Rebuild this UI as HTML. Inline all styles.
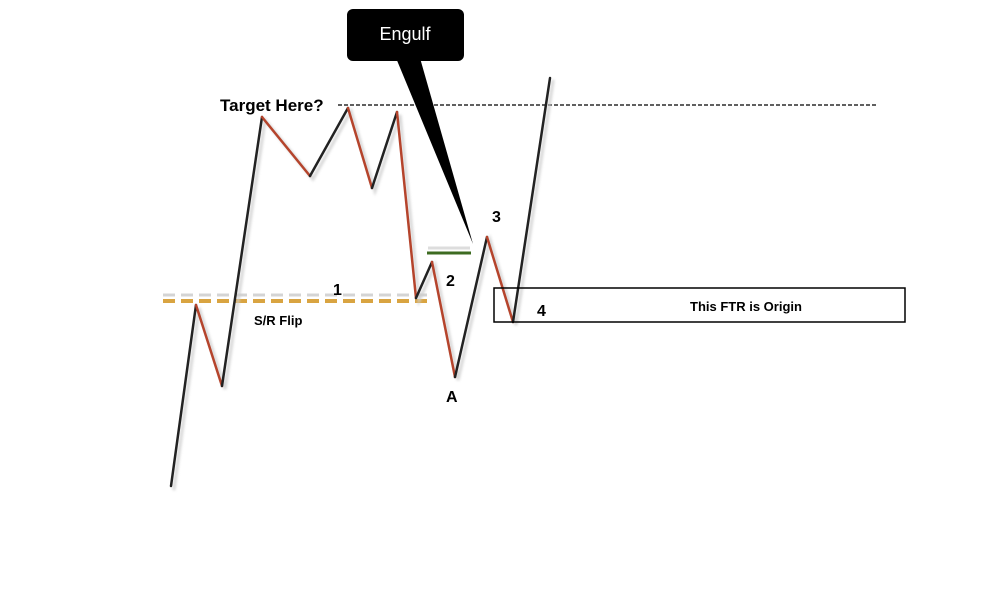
<!DOCTYPE html>
<html><head><style>
body{margin:0;background:#fff;width:1000px;height:600px;overflow:hidden}
svg{display:block}
text{font-family:"Liberation Sans",Arial,sans-serif;font-weight:bold;fill:#000}
</style></head><body>
<svg width="1000" height="600" viewBox="0 0 1000 600">
<defs><filter id="sh" x="-10%" y="-10%" width="120%" height="120%"><feGaussianBlur stdDeviation="1.2"/></filter></defs>
<line x1="338" y1="105" x2="877" y2="105" stroke="#000" stroke-width="1.3" stroke-dasharray="4,2"/>
<line x1="163" y1="295" x2="433" y2="295" stroke="#d4d4d4" stroke-width="3" stroke-dasharray="12,6"/>
<line x1="163" y1="301" x2="433" y2="301" stroke="#d9a441" stroke-width="4" stroke-dasharray="12,6"/>
<line x1="428" y1="248" x2="470" y2="248" stroke="#ddd" stroke-width="3"/>
<line x1="427" y1="253" x2="471" y2="253" stroke="#3d6b21" stroke-width="3"/>
<g stroke-width="3" fill="none" stroke-linecap="round" transform="translate(3,3)" stroke="#ccc" filter="url(#sh)" opacity="0.8">
<polyline points="171,486 196,305 222,386 262,117 310,176 348,108 372,188 397,112 416,298 432,262 455,377 487,237 513,322 550,78"/>
</g>
<g stroke-width="2.5" fill="none" stroke-linecap="round">
<line x1="171" y1="486" x2="196" y2="305" stroke="#222"/>
<line x1="196" y1="305" x2="222" y2="386" stroke="#b5442c"/>
<line x1="222" y1="386" x2="262" y2="117" stroke="#222"/>
<line x1="262" y1="117" x2="310" y2="176" stroke="#b5442c"/>
<line x1="310" y1="176" x2="348" y2="108" stroke="#222"/>
<line x1="348" y1="108" x2="372" y2="188" stroke="#b5442c"/>
<line x1="372" y1="188" x2="397" y2="112" stroke="#222"/>
<line x1="397" y1="112" x2="416" y2="298" stroke="#b5442c"/>
<line x1="416" y1="298" x2="432" y2="262" stroke="#222"/>
<line x1="432" y1="262" x2="455" y2="377" stroke="#b5442c"/>
<line x1="455" y1="377" x2="487" y2="237" stroke="#222"/>
<line x1="487" y1="237" x2="513" y2="322" stroke="#b5442c"/>
<line x1="513" y1="322" x2="550" y2="78" stroke="#222"/>
</g>
<polygon points="396,58 420,58 473,244" fill="#000"/>
<rect x="347" y="9" width="117" height="52" rx="6" fill="#000"/>
<text x="405" y="40" text-anchor="middle" font-size="18" style="font-weight:normal;fill:#fff">Engulf</text>
<rect x="494" y="288" width="411" height="34" fill="none" stroke="#000" stroke-width="1.5"/>
<text x="746" y="311" text-anchor="middle" font-size="13">This FTR is Origin</text>
<text x="220" y="111" font-size="17">Target Here?</text>
<text x="333" y="295" font-size="16">1</text>
<text x="446" y="286" font-size="16">2</text>
<text x="492" y="222" font-size="16">3</text>
<text x="537" y="316" font-size="16">4</text>
<text x="446" y="402" font-size="16">A</text>
<text x="254" y="325" font-size="13">S/R Flip</text>
</svg>
</body></html>
